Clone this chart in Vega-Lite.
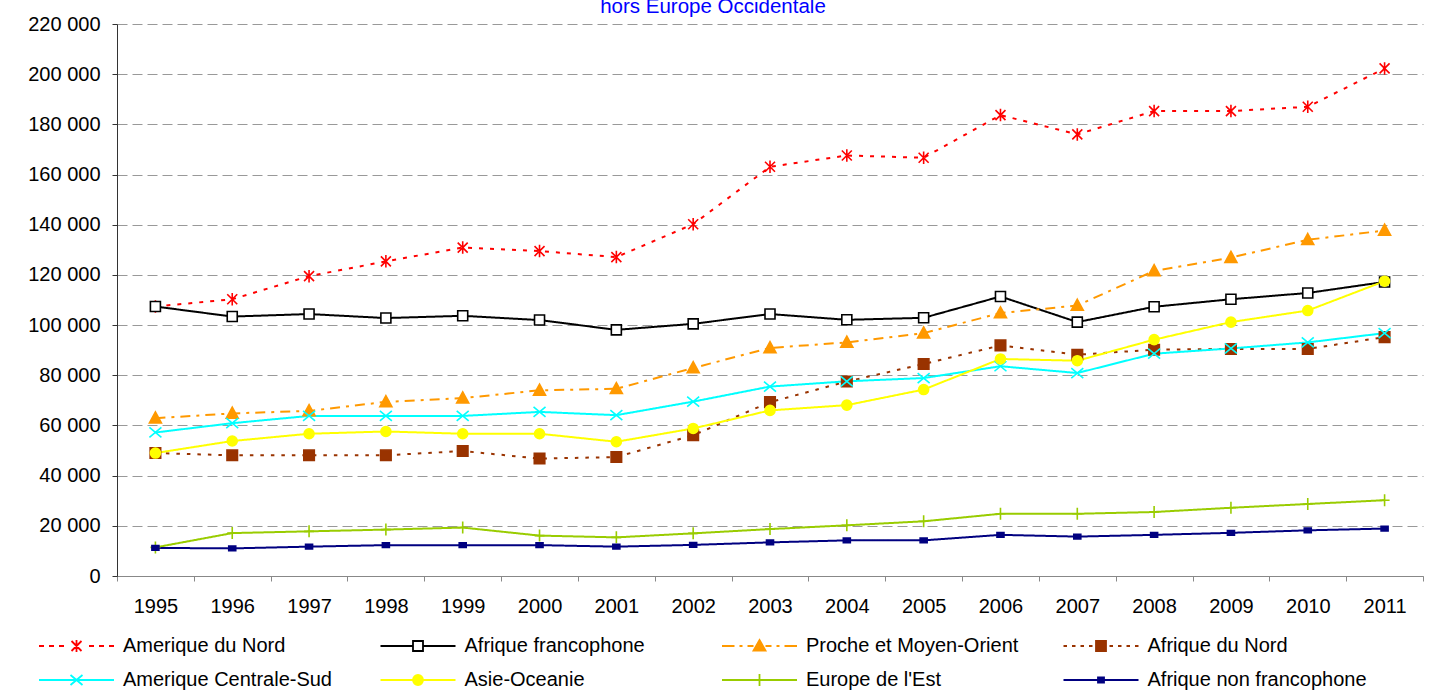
{
  "$schema": "https://vega.github.io/schema/vega-lite/v6.json",
  "width": 1306,
  "height": 552,
  "autosize": {"type": "none"},
  "padding": {"left": 117, "top": 24, "right": 8, "bottom": 114},
  "background": "#FFFFFF",
  "title": {"text": "hors Europe Occidentale", "color": "#0000FF", "fontSize": 20.5, "fontWeight": "normal", "font": "Liberation Sans", "anchor": "middle", "dx": -57, "offset": -19, "baseline": "alphabetic"},
  "data": {"values": [
    {"year":"1995","serie":"Amerique du Nord","value":107400},{"year":"1996","serie":"Amerique du Nord","value":110300},{"year":"1997","serie":"Amerique du Nord","value":119500},{"year":"1998","serie":"Amerique du Nord","value":125400},{"year":"1999","serie":"Amerique du Nord","value":130900},{"year":"2000","serie":"Amerique du Nord","value":129500},{"year":"2001","serie":"Amerique du Nord","value":127100},{"year":"2002","serie":"Amerique du Nord","value":140200},{"year":"2003","serie":"Amerique du Nord","value":163100},{"year":"2004","serie":"Amerique du Nord","value":167600},{"year":"2005","serie":"Amerique du Nord","value":166700},{"year":"2006","serie":"Amerique du Nord","value":183700},{"year":"2007","serie":"Amerique du Nord","value":176000},{"year":"2008","serie":"Amerique du Nord","value":185300},{"year":"2009","serie":"Amerique du Nord","value":185300},{"year":"2010","serie":"Amerique du Nord","value":187000},{"year":"2011","serie":"Amerique du Nord","value":202300},
    {"year":"1995","serie":"Afrique francophone","value":107400},{"year":"1996","serie":"Afrique francophone","value":103400},{"year":"1997","serie":"Afrique francophone","value":104400},{"year":"1998","serie":"Afrique francophone","value":102800},{"year":"1999","serie":"Afrique francophone","value":103700},{"year":"2000","serie":"Afrique francophone","value":102000},{"year":"2001","serie":"Afrique francophone","value":98100},{"year":"2002","serie":"Afrique francophone","value":100500},{"year":"2003","serie":"Afrique francophone","value":104400},{"year":"2004","serie":"Afrique francophone","value":102100},{"year":"2005","serie":"Afrique francophone","value":102900},{"year":"2006","serie":"Afrique francophone","value":111400},{"year":"2007","serie":"Afrique francophone","value":101200},{"year":"2008","serie":"Afrique francophone","value":107300},{"year":"2009","serie":"Afrique francophone","value":110300},{"year":"2010","serie":"Afrique francophone","value":112800},{"year":"2011","serie":"Afrique francophone","value":117200},
    {"year":"1995","serie":"Proche et Moyen-Orient","value":62900},{"year":"1996","serie":"Proche et Moyen-Orient","value":64800},{"year":"1997","serie":"Proche et Moyen-Orient","value":65800},{"year":"1998","serie":"Proche et Moyen-Orient","value":69400},{"year":"1999","serie":"Proche et Moyen-Orient","value":70900},{"year":"2000","serie":"Proche et Moyen-Orient","value":74000},{"year":"2001","serie":"Proche et Moyen-Orient","value":74600},{"year":"2002","serie":"Proche et Moyen-Orient","value":82900},{"year":"2003","serie":"Proche et Moyen-Orient","value":90900},{"year":"2004","serie":"Proche et Moyen-Orient","value":93100},{"year":"2005","serie":"Proche et Moyen-Orient","value":96800},{"year":"2006","serie":"Proche et Moyen-Orient","value":104800},{"year":"2007","serie":"Proche et Moyen-Orient","value":107800},{"year":"2008","serie":"Proche et Moyen-Orient","value":121600},{"year":"2009","serie":"Proche et Moyen-Orient","value":126900},{"year":"2010","serie":"Proche et Moyen-Orient","value":134000},{"year":"2011","serie":"Proche et Moyen-Orient","value":137700},
    {"year":"1995","serie":"Afrique du Nord","value":49000},{"year":"1996","serie":"Afrique du Nord","value":48100},{"year":"1997","serie":"Afrique du Nord","value":48100},{"year":"1998","serie":"Afrique du Nord","value":48100},{"year":"1999","serie":"Afrique du Nord","value":49800},{"year":"2000","serie":"Afrique du Nord","value":46800},{"year":"2001","serie":"Afrique du Nord","value":47400},{"year":"2002","serie":"Afrique du Nord","value":56100},{"year":"2003","serie":"Afrique du Nord","value":69300},{"year":"2004","serie":"Afrique du Nord","value":77500},{"year":"2005","serie":"Afrique du Nord","value":84500},{"year":"2006","serie":"Afrique du Nord","value":91900},{"year":"2007","serie":"Afrique du Nord","value":88200},{"year":"2008","serie":"Afrique du Nord","value":90200},{"year":"2009","serie":"Afrique du Nord","value":90500},{"year":"2010","serie":"Afrique du Nord","value":90500},{"year":"2011","serie":"Afrique du Nord","value":95200},
    {"year":"1995","serie":"Amerique Centrale-Sud","value":57200},{"year":"1996","serie":"Amerique Centrale-Sud","value":60900},{"year":"1997","serie":"Amerique Centrale-Sud","value":63800},{"year":"1998","serie":"Amerique Centrale-Sud","value":63800},{"year":"1999","serie":"Amerique Centrale-Sud","value":63800},{"year":"2000","serie":"Amerique Centrale-Sud","value":65400},{"year":"2001","serie":"Amerique Centrale-Sud","value":64100},{"year":"2002","serie":"Amerique Centrale-Sud","value":69500},{"year":"2003","serie":"Amerique Centrale-Sud","value":75500},{"year":"2004","serie":"Amerique Centrale-Sud","value":77600},{"year":"2005","serie":"Amerique Centrale-Sud","value":78900},{"year":"2006","serie":"Amerique Centrale-Sud","value":83600},{"year":"2007","serie":"Amerique Centrale-Sud","value":80900},{"year":"2008","serie":"Amerique Centrale-Sud","value":88600},{"year":"2009","serie":"Amerique Centrale-Sud","value":90700},{"year":"2010","serie":"Amerique Centrale-Sud","value":93100},{"year":"2011","serie":"Amerique Centrale-Sud","value":96800},
    {"year":"1995","serie":"Asie-Oceanie","value":49000},{"year":"1996","serie":"Asie-Oceanie","value":53800},{"year":"1997","serie":"Asie-Oceanie","value":56700},{"year":"1998","serie":"Asie-Oceanie","value":57600},{"year":"1999","serie":"Asie-Oceanie","value":56700},{"year":"2000","serie":"Asie-Oceanie","value":56700},{"year":"2001","serie":"Asie-Oceanie","value":53500},{"year":"2002","serie":"Asie-Oceanie","value":58800},{"year":"2003","serie":"Asie-Oceanie","value":66000},{"year":"2004","serie":"Asie-Oceanie","value":68100},{"year":"2005","serie":"Asie-Oceanie","value":74300},{"year":"2006","serie":"Asie-Oceanie","value":86500},{"year":"2007","serie":"Asie-Oceanie","value":85800},{"year":"2008","serie":"Asie-Oceanie","value":94200},{"year":"2009","serie":"Asie-Oceanie","value":101200},{"year":"2010","serie":"Asie-Oceanie","value":105800},{"year":"2011","serie":"Asie-Oceanie","value":117500},
    {"year":"1995","serie":"Europe de l'Est","value":11400},{"year":"1996","serie":"Europe de l'Est","value":17100},{"year":"1997","serie":"Europe de l'Est","value":17800},{"year":"1998","serie":"Europe de l'Est","value":18500},{"year":"1999","serie":"Europe de l'Est","value":19300},{"year":"2000","serie":"Europe de l'Est","value":16100},{"year":"2001","serie":"Europe de l'Est","value":15400},{"year":"2002","serie":"Europe de l'Est","value":17000},{"year":"2003","serie":"Europe de l'Est","value":18700},{"year":"2004","serie":"Europe de l'Est","value":20200},{"year":"2005","serie":"Europe de l'Est","value":21800},{"year":"2006","serie":"Europe de l'Est","value":24800},{"year":"2007","serie":"Europe de l'Est","value":24800},{"year":"2008","serie":"Europe de l'Est","value":25500},{"year":"2009","serie":"Europe de l'Est","value":27200},{"year":"2010","serie":"Europe de l'Est","value":28700},{"year":"2011","serie":"Europe de l'Est","value":30200},
    {"year":"1995","serie":"Afrique non francophone","value":11200},{"year":"1996","serie":"Afrique non francophone","value":11000},{"year":"1997","serie":"Afrique non francophone","value":11700},{"year":"1998","serie":"Afrique non francophone","value":12300},{"year":"1999","serie":"Afrique non francophone","value":12300},{"year":"2000","serie":"Afrique non francophone","value":12300},{"year":"2001","serie":"Afrique non francophone","value":11700},{"year":"2002","serie":"Afrique non francophone","value":12400},{"year":"2003","serie":"Afrique non francophone","value":13400},{"year":"2004","serie":"Afrique non francophone","value":14200},{"year":"2005","serie":"Afrique non francophone","value":14200},{"year":"2006","serie":"Afrique non francophone","value":16400},{"year":"2007","serie":"Afrique non francophone","value":15700},{"year":"2008","serie":"Afrique non francophone","value":16400},{"year":"2009","serie":"Afrique non francophone","value":17200},{"year":"2010","serie":"Afrique non francophone","value":18200},{"year":"2011","serie":"Afrique non francophone","value":18900}
  ]},
  "encoding": {
    "x": {"field": "year", "type": "ordinal", "bandPosition": 0.5,
      "scale": {"type": "band", "paddingInner": 0, "paddingOuter": 0},
      "axis": {"title": null, "labelAngle": 0, "tickBand": "extent", "labelFontSize": 20, "labelColor": "#000000", "labelPadding": 15, "tickSize": 5, "domainColor": "#888888", "tickColor": "#888888", "grid": false}},
    "y": {"field": "value", "type": "quantitative",
      "scale": {"domain": [0, 220000], "nice": false, "zero": true},
      "axis": {"title": null, "values": [0,20000,40000,60000,80000,100000,120000,140000,160000,180000,200000,220000], "labelExpr": "replace(format(datum.value, ','), ',', ' ')", "labelFontSize": 20, "labelColor": "#000000", "labelPadding": 12, "tickSize": 5, "domainColor": "#333333", "tickColor": "#333333", "grid": true, "gridColor": "#999999", "gridDash": [10, 5], "gridWidth": 1}}
  },
  "resolve": {"scale": {"shape": "independent", "fill": "independent", "stroke": "independent"}},
  "layer": [
    {
      "mark": {"type": "line", "strokeWidth": 2},
      "encoding": {
        "color": {"field": "serie", "type": "nominal", "legend": null,
          "scale": {"domain": ["Amerique du Nord","Afrique francophone","Proche et Moyen-Orient","Afrique du Nord","Amerique Centrale-Sud","Asie-Oceanie","Europe de l'Est","Afrique non francophone"],
                    "range": ["#FF0000","#000000","#FF9900","#993300","#00FFFF","#FFFF00","#99CC00","#000080"]}},
        "strokeDash": {"field": "serie", "type": "nominal", "legend": null,
          "scale": {"domain": ["Amerique du Nord","Afrique francophone","Proche et Moyen-Orient","Afrique du Nord","Amerique Centrale-Sud","Asie-Oceanie","Europe de l'Est","Afrique non francophone"],
                    "range": [[4,7],[1,0],[10,6,3,6],[3.5,7],[1,0],[1,0],[1,0],[1,0]]}}
      }
    },
    {
      "mark": {"type": "point", "size": 100, "strokeWidth": 1.6, "opacity": 1, "filled": false},
      "encoding": {
        "shape": {"field": "serie", "type": "nominal", "legend": null,
          "scale": {"domain": ["Amerique du Nord","Afrique francophone","Proche et Moyen-Orient","Afrique du Nord","Amerique Centrale-Sud","Asie-Oceanie","Europe de l'Est","Afrique non francophone"],
                    "range": ["M-1,-1L1,1M-1,1L1,-1M0,-1.25V1.25","M-1,-1H1V1H-1Z","M0,-1.25L1.2,0.95H-1.2Z","M-1.05,-1.05H1.05V1.05H-1.05Z","M-1.2,-1L1.2,1M-1.2,1L1.2,-1","M1,0A1,1 0 1,1 -1,0A1,1 0 1,1 1,0Z","M0,-1.2V1.2M-1,0H1","M-0.7,-0.45H0.7V0.45H-0.7Z"]}},
        "stroke": {"field": "serie", "type": "nominal", "legend": null,
          "scale": {"domain": ["Amerique du Nord","Afrique francophone","Proche et Moyen-Orient","Afrique du Nord","Amerique Centrale-Sud","Asie-Oceanie","Europe de l'Est","Afrique non francophone"],
                    "range": ["#FF0000","#000000","#FF9900","#993300","#00FFFF","#FFFF00","#99CC00","#000080"]}},
        "fill": {"field": "serie", "type": "nominal", "legend": null,
          "scale": {"domain": ["Amerique du Nord","Afrique francophone","Proche et Moyen-Orient","Afrique du Nord","Amerique Centrale-Sud","Asie-Oceanie","Europe de l'Est","Afrique non francophone"],
                    "range": ["transparent","#FFFFFF","#FF9900","#993300","transparent","#FFFF00","transparent","#000080"]}}
      }
    },
    {
      "transform": [{"filter": "false"}],
      "mark": {"type": "point", "size": 100, "strokeWidth": 1.8, "opacity": 1, "filled": false},
      "encoding": {
        "shape": {"field": "serie", "type": "nominal",
          "scale": {"domain": ["Amerique du Nord","Afrique francophone","Proche et Moyen-Orient","Afrique du Nord","Amerique Centrale-Sud","Asie-Oceanie","Europe de l'Est","Afrique non francophone"],
                    "range": ["M-1.2,0H-0.2M0.8,0H1.8M2.8,0H3.8M5.3,-1L7.3,1M5.3,1L7.3,-1M6.3,-1.2V1.2M8.8,0H9.8M10.8,0H11.8M12.8,0H13.8", "M-1.2,0H5.3M7.3,0H13.8M5.3,-1H7.3V1H5.3Z", "M-1.2,0H1.3M2.3,0H2.9M3.9,0H5.1M7.5,0H8.7M9.7,0H10.3M11.3,0H13.8M6.3,-1.2L7.5,0.9H5.1Z", "M-1.2,0H-0.5M0.5,0H1.2M2.2,0H2.9M3.9,0H4.6M8,0H8.7M9.7,0H10.4M11.4,0H12.1M13.1,0H13.8M5.3,-1H7.3V1H5.3Z", "M-1.2,0H13.8M5.1,-1L7.5,1M5.1,1L7.5,-1", "M-1.2,0H13.8M7.3,0A1,1 0 1,1 5.3,0A1,1 0 1,1 7.3,0Z", "M-1.2,0H13.8M6.3,-1.2V1.2", "M-1.2,0H13.8M5.7,-0.5H6.9V0.5H5.7Z"]},
          "legend": {"orient": "none", "legendX": -82, "legendY": 612, "direction": "horizontal", "columns": 4, "gridAlign": "all", "columnPadding": 33.5, "rowPadding": 14, "title": null, "labelFontSize": 20, "labelColor": "#000000", "labelLimit": 400, "labelOffset": 68, "symbolSize": 100, "symbolStrokeWidth": 1.8, "symbolFillColor": "transparent", "symbolStrokeColor": "#000000", "symbolOpacity": 1}},
        "stroke": {"field": "serie", "type": "nominal",
          "scale": {"domain": ["Amerique du Nord","Afrique francophone","Proche et Moyen-Orient","Afrique du Nord","Amerique Centrale-Sud","Asie-Oceanie","Europe de l'Est","Afrique non francophone"],
                    "range": ["#FF0000","#000000","#FF9900","#993300","#00FFFF","#FFFF00","#99CC00","#000080"]},
          "legend": {"orient": "none", "legendX": -82, "legendY": 612, "direction": "horizontal", "columns": 4, "gridAlign": "all", "columnPadding": 33.5, "rowPadding": 14, "title": null, "labelFontSize": 20, "labelColor": "#000000", "labelLimit": 400, "labelOffset": 68, "symbolSize": 100, "symbolStrokeWidth": 1.8, "symbolFillColor": "transparent", "symbolStrokeColor": "#000000", "symbolOpacity": 1}},
        "fill": {"field": "serie", "type": "nominal",
          "scale": {"domain": ["Amerique du Nord","Afrique francophone","Proche et Moyen-Orient","Afrique du Nord","Amerique Centrale-Sud","Asie-Oceanie","Europe de l'Est","Afrique non francophone"],
                    "range": ["transparent","#FFFFFF","#FF9900","#993300","transparent","#FFFF00","transparent","#000080"]},
          "legend": {"orient": "none", "legendX": -82, "legendY": 612, "direction": "horizontal", "columns": 4, "gridAlign": "all", "columnPadding": 33.5, "rowPadding": 14, "title": null, "labelFontSize": 20, "labelColor": "#000000", "labelLimit": 400, "labelOffset": 68, "symbolSize": 100, "symbolStrokeWidth": 1.8, "symbolFillColor": "transparent", "symbolStrokeColor": "#000000", "symbolOpacity": 1}}
      }
    }
  ],
  "config": {
    "font": "Liberation Sans",
    "view": {"stroke": null},
    "axis": {"labelFont": "Liberation Sans"},
    "legend": {"labelFont": "Liberation Sans"}
  }
}
